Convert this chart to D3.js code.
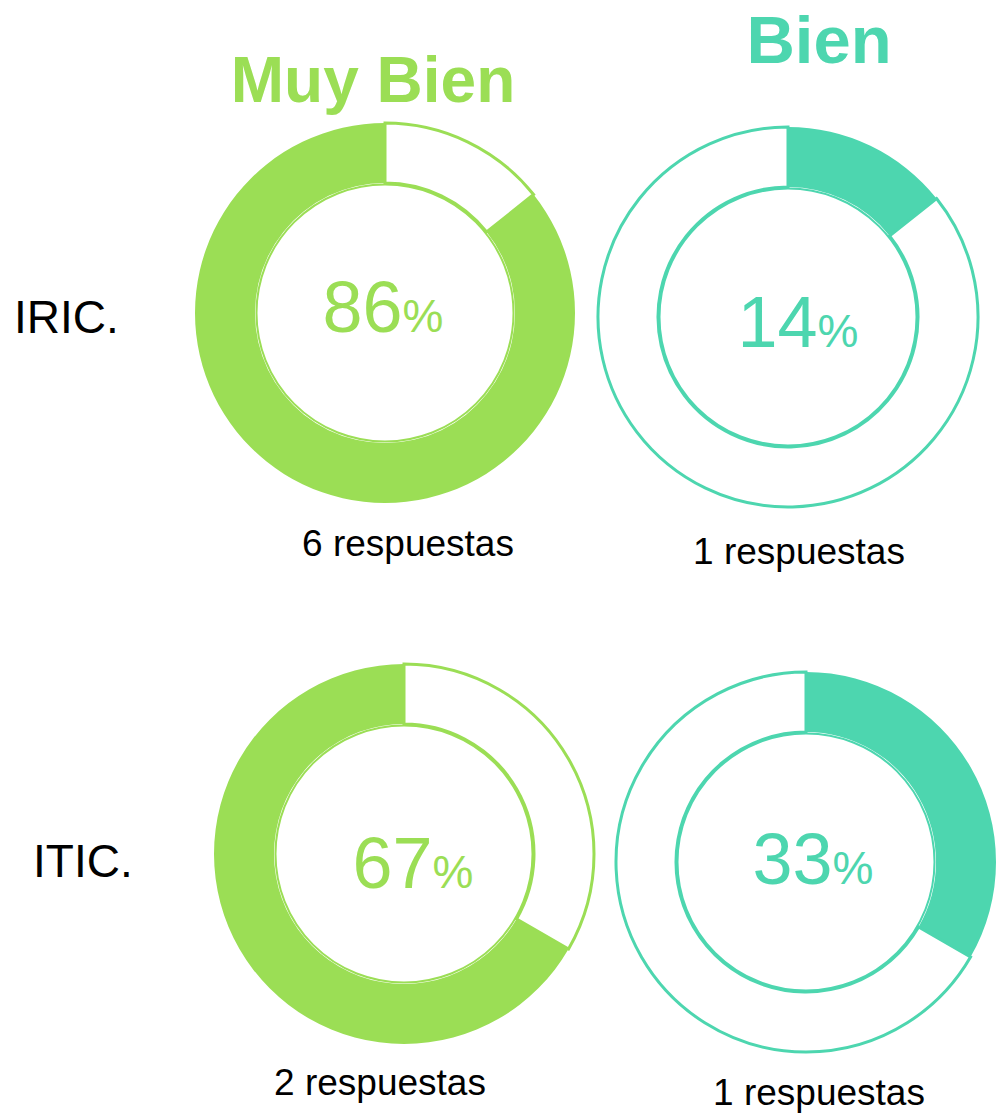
<!DOCTYPE html>
<html lang='es'>

<head>
    <meta charset='UTF-8'>
    <title>Muy Bien / Bien</title>
    <script src='https://d3js.org/d3.v7.min.js' charset='utf-8'></script>
    <style>
        body {
            margin: 0px;
            background: #fff;
            font-family: 'Liberation Sans', Arial, sans-serif;
        }
    </style>
</head>

<body>
    <div id='chart'></div>
    <script>
        'use strict';

        // data
        const rows = ['IRIC.', 'ITIC.'];
        const categories = ['Muy Bien', 'Bien'];
        const muyBienCounts = [6, 2];
        const bienCounts = [1, 1];

        const colors = {
            'Muy Bien': '#9bde55',
            'Bien': '#4dd6af',
        };

        const width = 997, height = 1114;
        const outerR = 190, innerR = 130;

        // small hand nudges per cell (the donuts are not on a perfect grid)
        const nudge = {
            'IRIC.|Muy Bien': { dx: 0, dy: 0, pctDx: -2, pctDy: 19, respDx: 23, respDy: 243 },
            'IRIC.|Bien': { dx: 0, dy: 4, pctDx: 10, pctDy: 30, respDx: 11, respDy: 247 },
            'ITIC.|Muy Bien': { dx: 0, dy: -3, pctDx: 9, pctDy: 34, respDx: -24, respDy: 241 },
            'ITIC.|Bien': { dx: -1, dy: 5, pctDx: 7, pctDy: 22, respDx: 13, respDy: 243 },
        };

        const svg = d3.select('#chart')
            .append('svg')
            .attr('width', width)
            .attr('height', height);

        const x = d3.scalePoint().domain(categories).range([385, 788]);
        const y = d3.scalePoint().domain(rows).range([313, 857]);
        const rowShift = d3.scalePoint().domain(rows).range([0, 19]);

        // column headers
        const headerPos = {
            'Muy Bien': { dx: -12, y: 102, size: 64 },
            'Bien': { dx: 31, y: 63, size: 67 },
        };
        svg.selectAll('.header')
            .data(categories)
            .enter()
            .append('text')
            .attr('class', 'header')
            .attr('x', d => x(d) + headerPos[d].dx)
            .attr('y', d => headerPos[d].y)
            .attr('text-anchor', 'middle')
            .attr('font-weight', 'bold')
            .attr('font-size', d => headerPos[d].size)
            .attr('fill', d => colors[d])
            .text(d => d);

        // row labels
        svg.selectAll('.rowlabel')
            .data(rows)
            .enter()
            .append('text')
            .attr('class', 'rowlabel')
            .attr('x', d => 14 + rowShift(d))
            .attr('y', d => y(d) + 20)
            .attr('font-size', 46)
            .attr('fill', '#000')
            .text(d => d);

        const cells = [];
        rows.forEach((r, i) => {
            const total = muyBienCounts[i] + bienCounts[i];
            categories.forEach(c => {
                const count = c === 'Muy Bien' ? muyBienCounts[i] : bienCounts[i];
                cells.push({
                    row: r,
                    cat: c,
                    count: count,
                    pct: Math.round(count / total * 100),
                    n: nudge[r + '|' + c],
                    // Bien share always starts at 12 o'clock, clockwise
                    slices: [
                        { key: 'Bien', value: bienCounts[i] },
                        { key: 'Muy Bien', value: muyBienCounts[i] },
                    ],
                });
            });
        });

        const pie = d3.pie().sort(null).value(d => d.value);
        const arc = d3.arc().innerRadius(innerR).outerRadius(outerR);

        const g = svg.selectAll('.donut')
            .data(cells)
            .enter()
            .append('g')
            .attr('class', 'donut')
            .attr('transform', d => `translate(${x(d.cat) + rowShift(d.row) + d.n.dx}, ${y(d.row) + d.n.dy})`);

        g.selectAll('path')
            .data(d => pie(d.slices).map(s => ({ s: s, cat: d.cat })))
            .enter()
            .append('path')
            .attr('d', d => arc(d.s))
            .attr('fill', d => d.s.data.key === d.cat ? colors[d.cat] : '#fff')
            .attr('stroke', d => d.s.data.key === d.cat ? 'none' : colors[d.cat])
            .attr('stroke-width', 3);

        g.append('circle')
            .attr('r', innerR - 1.5)
            .attr('fill', 'none')
            .attr('stroke', d => colors[d.cat])
            .attr('stroke-width', 2);

        const pctText = g.append('text')
            .attr('x', d => d.n.pctDx)
            .attr('y', d => d.n.pctDy)
            .attr('text-anchor', 'middle')
            .attr('fill', d => colors[d.cat]);
        pctText.append('tspan')
            .attr('font-size', 72)
            .text(d => d.pct);
        pctText.append('tspan')
            .attr('font-size', 46)
            .text('%');

        g.append('text')
            .attr('x', d => d.n.respDx)
            .attr('y', d => d.n.respDy)
            .attr('text-anchor', 'middle')
            .attr('font-size', 37)
            .attr('fill', '#000')
            .text(d => `${d.count} respuestas`);
    </script>
</body>

</html>
